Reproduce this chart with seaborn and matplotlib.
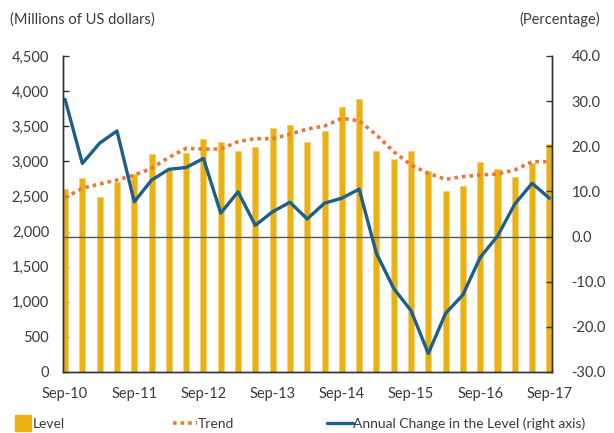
import pandas as pd
import matplotlib.pyplot as plt
import seaborn as sns
from matplotlib.lines import Line2D
from matplotlib.ticker import FuncFormatter

# quarterly data, Sep-10 .. Sep-17
quarters = ['Sep-10', 'Dec-10', 'Mar-11', 'Jun-11', 'Sep-11', 'Dec-11', 'Mar-12', 'Jun-12',
            'Sep-12', 'Dec-12', 'Mar-13', 'Jun-13', 'Sep-13', 'Dec-13', 'Mar-14', 'Jun-14',
            'Sep-14', 'Dec-14', 'Mar-15', 'Jun-15', 'Sep-15', 'Dec-15', 'Mar-16', 'Jun-16',
            'Sep-16', 'Dec-16', 'Mar-17', 'Jun-17', 'Sep-17']

level = [2606, 2758, 2497, 2710, 2815, 3104, 2877, 3123, 3318, 3275, 3147, 3209, 3470, 3513,
         3275, 3428, 3774, 3883, 3147, 3038, 3147, 2862, 2582, 2654, 2990, 2891, 2782, 2972, 3247]

trend = [2482, 2616, 2677, 2734, 2805, 2900, 3057, 3185, 3175, 3175, 3280, 3323, 3323, 3385,
         3460, 3503, 3612, 3579, 3375, 3137, 2948, 2829, 2744, 2782, 2805, 2820, 2877, 2995, 2995]

annual_change = [30.4, 16.2, 20.7, 23.4, 7.7, 12.5, 14.9, 15.3, 17.3, 5.2, 9.9, 2.5, 5.5, 7.6,
                 3.9, 7.4, 8.5, 10.5, -3.7, -11.5, -16.4, -25.9, -17.0, -12.9, -4.6, 0.1,
                 7.2, 11.8, 8.5]

df = pd.DataFrame({'q': quarters, 'level': level, 'trend': trend, 'chg': annual_change})
df['idx'] = range(len(df))

gold = '#EBB111'
orange = '#E8783A'
blue = '#1C5E8C'
txt = '#3a3a3a'

sns.set_style('white')
plt.rcParams['font.family'] = ['Lato', 'DejaVu Sans']

fig = plt.figure(figsize=(6.14, 4.33), dpi=100)
ax = fig.add_axes([0.1026, 0.1409, 0.7964, 0.7298])

sns.barplot(data=df, x='idx', y='level', native_scale=True, width=0.35,
            color=gold, edgecolor='#F3D27A', linewidth=0.6, saturation=1, ax=ax)
sns.lineplot(data=df, x='idx', y='trend', color=orange, linewidth=2.6,
             linestyle=(0, (1, 1.1)), ax=ax)

ax2 = ax.twinx()
sns.lineplot(data=df, x='idx', y='chg', color=blue, linewidth=2.4, ax=ax2)
ax2.axhline(0, color='#555555', linewidth=1.0, zorder=0)

ax.set_ylim(0, 4500)
ax.set_yticks(range(0, 4501, 500))
ax.yaxis.set_major_formatter(FuncFormatter(lambda v, p: f'{v:,.0f}'))
ax2.set_ylim(-30, 40)
ax2.set_yticks(range(-30, 41, 10))
ax2.yaxis.set_major_formatter(FuncFormatter(lambda v, p: f'{v:.1f}'))

ax.set_xlim(-0.12, 28.15)
ax.set_xticks(df['idx'][::4])
ax.set_xticklabels(df['q'][::4])

for a in (ax, ax2):
    a.set_xlabel('')
    a.set_ylabel('')
    a.spines['top'].set_visible(False)
    for s in ('left', 'right', 'bottom'):
        a.spines[s].set_color('#333333')
        a.spines[s].set_linewidth(1.0)
    a.tick_params(direction='in', length=4, width=1, color='#333333',
                  labelsize=10.5, labelcolor=txt)
ax.tick_params(axis='x', pad=11)
ax.tick_params(axis='y', pad=10)
ax2.tick_params(axis='y', pad=14)

fig.text(0.016, 0.955, '(Millions of US dollars)', fontsize=10.5, color=txt, va='center')
fig.text(0.978, 0.955, '(Percentage)', fontsize=10.5, color=txt, va='center', ha='right')

# legend entries placed one by one, like the original layout
entries = [
    (Line2D([], [], marker='s', markersize=11.5, color=gold, linestyle='none'), 'Level', 15, 1.15, 0.15),
    (Line2D([], [], color=orange, linewidth=2.6, linestyle=(0, (1, 1.1))), 'Trend', 173, 1.75, 0.02),
    (Line2D([], [], color=blue, linewidth=2.4), 'Annual Change in the Level (right axis)', 327, 1.85, 0.02),
]
for h, lab, xpx, hl, tp in entries:
    fig.legend([h], [lab], loc='center left', bbox_to_anchor=(xpx / 614, 0.021),
               frameon=False, fontsize=10, labelcolor=txt, handlelength=hl,
               handletextpad=tp, borderpad=0, borderaxespad=0)

fig.savefig('out.png', dpi=100)
